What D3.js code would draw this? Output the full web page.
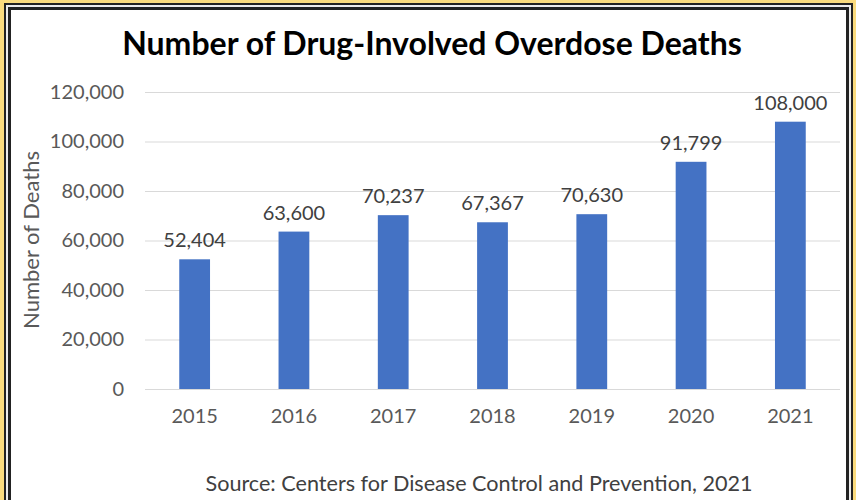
<!DOCTYPE html>
<html>
<head>
<meta charset="utf-8">
<script src="https://cdn.jsdelivr.net/npm/d3@7"></script>
<style>
  body { margin: 0; background: #fadb7e; }
  svg { display: block; }
  text { font-family: Lato, "Open Sans", sans-serif; }
</style>
</head>
<body>
<div id="chart"></div>
<script>
// Data
const years = ["2015", "2016", "2017", "2018", "2019", "2020", "2021"];
const deaths = [52404, 63600, 70237, 67367, 70630, 91799, 108000];
const valueLabels = ["52,404", "63,600", "70,237", "67,367", "70,630", "91,799", "108,000"];
const yTicks = [0, 20000, 40000, 60000, 80000, 100000, 120000];

const W = 856, H = 500;
const svg = d3.select("#chart").append("svg")
    .attr("width", W)
    .attr("height", H);

// frame: yellow, dark line, light line, dark line, white
svg.append("rect").attr("width", W).attr("height", H).attr("fill", "#fadb7e");
svg.append("rect").attr("x", 4).attr("y", 3).attr("width", 849).attr("height", 600).attr("fill", "#222");
svg.append("rect").attr("x", 6).attr("y", 5).attr("width", 845).attr("height", 600).attr("fill", "#ececec");
svg.append("rect").attr("x", 8).attr("y", 7).attr("width", 841).attr("height", 600).attr("fill", "#222");
svg.append("rect").attr("x", 11).attr("y", 10).attr("width", 835).attr("height", 600).attr("fill", "#fff");

// plot area
const plotLeft = 145, plotRight = 840, plotTop = 92, plotBottom = 389;

const x = d3.scaleBand()
    .domain(years)
    .range([plotLeft, plotRight])
    .paddingInner(0.69)
    .paddingOuter(0.345);
const y = d3.scaleLinear()
    .domain([0, 120000])
    .range([plotBottom, plotTop]);

// gridlines + tick labels
const yAxis = svg.append("g")
    .attr("transform", `translate(${plotLeft},0)`)
    .call(d3.axisLeft(y)
        .tickValues(yTicks)
        .tickSize(-(plotRight - plotLeft))
        .tickPadding(21)
        .tickFormat(d3.format(",")));
yAxis.select(".domain").remove();
yAxis.selectAll(".tick line").attr("stroke", "#d9d9d9").attr("stroke-width", 1.2);
yAxis.selectAll(".tick text")
    .attr("fill", "#595959")
    .style("font-size", "20px")
    .style("font-family", "Lato, sans-serif");

// bars
svg.selectAll("rect.bar")
    .data(deaths)
    .enter().append("rect")
    .attr("class", "bar")
    .attr("x", (d, i) => x(years[i]))
    .attr("y", d => y(d))
    .attr("width", x.bandwidth())
    .attr("height", d => plotBottom - y(d))
    .attr("fill", "#4472c4");

// value labels
svg.selectAll("text.val")
    .data(deaths)
    .enter().append("text")
    .attr("class", "val")
    .attr("x", (d, i) => x(years[i]) + x.bandwidth() / 2)
    .attr("y", d => y(d) - 12)
    .attr("text-anchor", "middle")
    .attr("fill", "#404040")
    .style("font-size", "20px")
    .text((d, i) => valueLabels[i]);

// x axis labels
const xAxis = svg.append("g")
    .attr("transform", `translate(0,${plotBottom})`)
    .call(d3.axisBottom(x).tickSize(0).tickPadding(20));
xAxis.select(".domain").remove();
xAxis.selectAll(".tick text")
    .attr("fill", "#595959")
    .style("font-size", "20px")
    .style("font-family", "Lato, sans-serif");

// title
svg.append("text")
    .attr("x", 432)
    .attr("y", 55)
    .attr("text-anchor", "middle")
    .attr("fill", "#000")
    .style("font-size", "32px")
    .style("font-weight", "bold")
    .text("Number of Drug-Involved Overdose Deaths");

// y axis title
svg.append("text")
    .attr("transform", "translate(39,240) rotate(-90)")
    .attr("text-anchor", "middle")
    .attr("fill", "#595959")
    .style("font-size", "22px")
    .text("Number of Deaths");

// source
svg.append("text")
    .attr("x", 479)
    .attr("y", 491)
    .attr("text-anchor", "middle")
    .attr("fill", "#404040")
    .style("font-size", "21.6px")
    .text("Source: Centers for Disease Control and Prevention, 2021");
</script>
</body>
</html>
